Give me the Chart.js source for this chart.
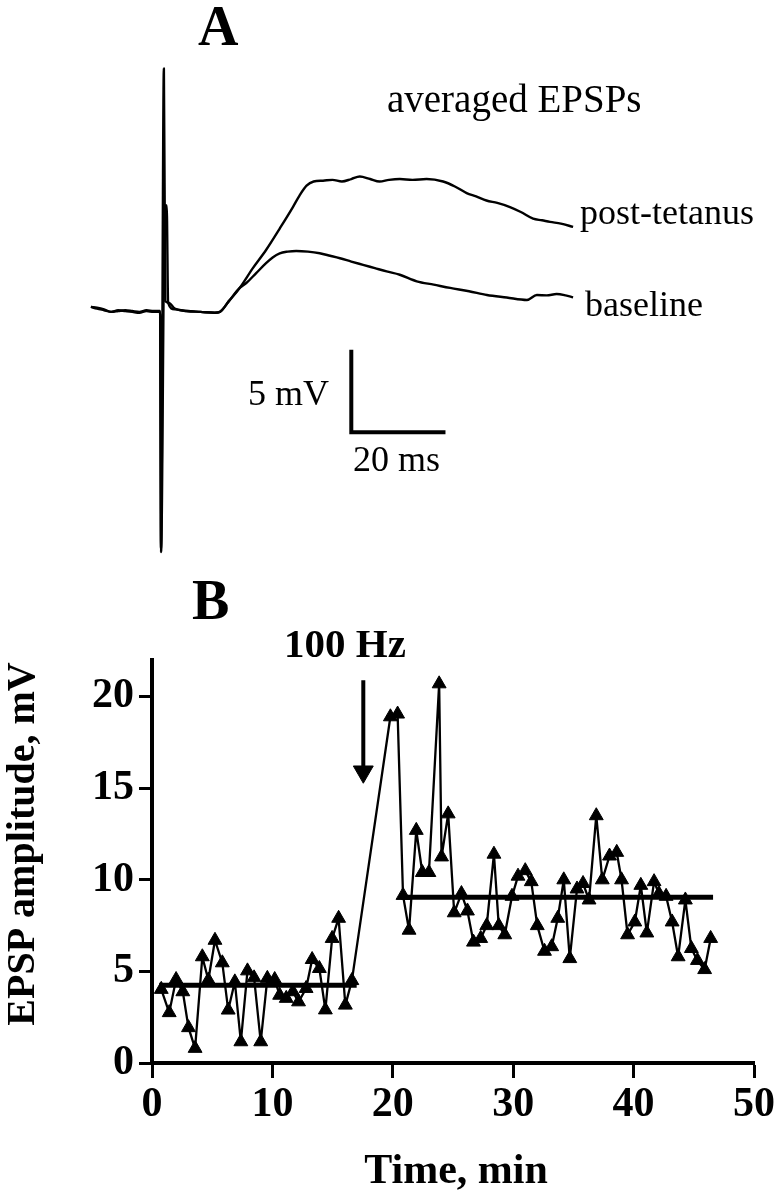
<!DOCTYPE html>
<html>
<head>
<meta charset="utf-8">
<title>EPSP potentiation</title>
<script src="https://cdn.jsdelivr.net/npm/chart.js@4.4.1/dist/chart.umd.min.js"></script>
<style>
  html, body { margin: 0; padding: 0; background: #fff; }
  #wrap { position: relative; width: 777px; height: 1199px; }
  #traceChart { position: absolute; left: 0; top: 0; }
  #timeChart { position: absolute; left: 0; top: 580px; }
</style>
</head>
<body>
<div id="wrap">
  <canvas id="traceChart" width="777" height="580"></canvas>
  <canvas id="timeChart" width="777" height="619"></canvas>
</div>
<script>
// ===== PANEL A: averaged EPSPs (ms, mV) =====
const postTime = [-15.3, -14, -12.5, -11, -9.5, -8, -6.5, -5, -3.5, -2, -0.6, -0.4, 0.2, 0.5, 1.2, 2.5, 5, 8, 11, 12.1,
  14, 16.3, 19.1, 21.9, 24.8, 27.6, 29.0, 30.5, 32, 34, 36, 38, 40, 41.8, 44, 46, 48, 50.3, 53, 56, 59.5, 62, 64.5,
  66.5, 68.7, 71, 73.7, 76, 78.6, 80.5, 82.2, 84.5, 87.1];
const postMv   = [0.25, 0.15, 0.05, -0.05, 0.05, 0.0, -0.05, -0.1, 0.0, -0.05, -0.05, -14.6, 14.7, 0.6, 0.5, 0.15, 0.0, -0.05, -0.1, -0.05,
  0.6, 1.4, 2.6, 3.7, 5.0, 6.3, 7.0, 7.6, 7.85, 7.9, 7.95, 7.85, 8.0, 8.15, 8.0, 7.85, 7.95, 8.0, 7.95, 8.0, 7.85, 7.55, 7.15,
  6.95, 6.7, 6.55, 6.3, 6.0, 5.6, 5.5, 5.4, 5.3, 5.1];

const baseTime = [-15.3, -14, -12.5, -11, -9.5, -8, -6.5, -5, -3.5, -2, -0.6, -0.4, 0.4, 0.8, 1.1, 2.5, 5, 8, 11, 12.1,
  14, 16.3, 17.7, 19.8, 21.9, 23.3, 24.8, 26.5, 28.3, 30.8, 33.3, 35.5, 37.6, 40, 42.5, 45, 47.5, 50.3, 53.9, 57.5,
  61, 65, 68.8, 73, 77.3, 79.4, 81.5, 83.6, 85.5, 87.1];
const baseMv   = [0.25, 0.2, 0.1, -0.05, 0.0, 0.05, 0.0, -0.05, 0.05, 0.0, 0.0, -14.6, 6.4, 6.4, 0.5, 0.1, 0.0, -0.05, -0.1, -0.05,
  0.6, 1.4, 1.7, 2.3, 2.9, 3.25, 3.5, 3.6, 3.64, 3.6, 3.5, 3.35, 3.2, 3.0, 2.8, 2.6, 2.4, 2.2, 1.8, 1.6,
  1.4, 1.2, 0.97, 0.82, 0.67, 0.97, 0.95, 1.03, 0.95, 0.83];

// 5 mV / 20 ms calibration bar
const barMs = [40, 40, 60];
const barMv = [-2.35, -7.35, -7.35];

// ===== PANEL B: EPSP amplitude vs time (min, mV) =====
const sampleMin = [0.77, 1.43, 2.0, 2.56, 3.03, 3.58, 4.18, 4.68, 5.23, 5.84, 6.33, 6.88, 7.38, 7.93, 8.48, 9.03, 9.58, 10.19, 10.6, 11.15,
  11.7, 12.17, 12.8, 13.3, 13.9, 14.4, 14.96, 15.5, 16.06, 16.6, 19.8, 20.4, 20.85, 21.35, 21.95, 22.45, 23.0, 23.85, 24.05, 24.6,
  25.1, 25.7, 26.2, 26.7, 27.3, 27.8, 28.4, 28.8, 29.3, 29.9, 30.4, 31.0, 31.5, 32.0, 32.6, 33.2, 33.7, 34.2, 34.7, 35.3,
  35.8, 36.3, 36.9, 37.4, 38.0, 38.6, 39.0, 39.5, 40.1, 40.6, 41.1, 41.7, 42.1, 42.7, 43.2, 43.7, 44.3, 44.8, 45.3, 45.9, 46.4];
const amplitudeMv = [4.02, 2.75, 4.56, 3.89, 1.93, 0.8, 5.8, 4.53, 6.7, 5.47, 2.89, 4.43, 1.16, 5.03, 4.65, 1.16, 4.62, 4.56, 3.7, 3.53,
  3.89, 3.34, 4.07, 5.65, 5.16, 2.9, 6.8, 7.9, 3.16, 4.5, 18.9, 19.05, 9.15, 7.25, 12.7, 10.4, 10.4, 20.7, 11.25, 13.6,
  8.2, 9.25, 8.3, 6.6, 6.8, 7.5, 11.4, 7.5, 7.0, 9.1, 10.2, 10.5, 9.9, 7.5, 6.1, 6.35, 7.9, 10.0, 5.7, 9.5,
  9.8, 8.9, 13.5, 10.0, 11.3, 11.5, 10.0, 7.0, 7.7, 9.7, 7.1, 9.9, 9.25, 9.1, 7.7, 5.8, 8.9, 6.25, 5.6, 5.1, 6.8];

const preMeanMin = [0.6, 17.0];
const preMeanMv = [4.25, 4.25];
const postMeanMin = [20.7, 46.6];
const postMeanMv = [9.05, 9.05];

// 100 Hz tetanus arrow
const arrowMin = [17.55, 17.55];
const arrowMv = [20.9, 15.9];

const xTicks = [0, 10, 20, 30, 40, 50];
const yTicks = [0, 5, 10, 15, 20];

// ================== helpers ==================
Chart.defaults.font.family = "'Liberation Serif', 'Times New Roman', serif";
Chart.defaults.color = '#000';

const pts = (xs, ys) => xs.map((x, i) => ({ x, y: ys[i] }));

// free text (panel letters, labels, axis titles)
const freeText = {
    id: 'freeText',
    afterDraw(chart, args, opts) {
        const ctx = chart.ctx;
        (opts.items || []).forEach(t => {
            ctx.save();
            ctx.font = t.font;
            ctx.fillStyle = '#000';
            ctx.textAlign = t.align || 'left';
            ctx.textBaseline = t.baseline || 'alphabetic';
            ctx.translate(t.x, t.y);
            if (t.rotate) ctx.rotate(t.rotate);
            ctx.fillText(t.text, 0, 0);
            ctx.restore();
        });
    }
};

const serif = "'Liberation Serif', 'Times New Roman', serif";

// ================== PANEL A ==================
const traceStyle = {
    borderColor: '#000', borderWidth: 2.4, pointRadius: 0,
    borderJoinStyle: 'round', cubicInterpolationMode: 'monotone'
};

new Chart(document.getElementById('traceChart'), {
    type: 'line',
    data: {
        datasets: [
            { data: pts(postTime, postMv), ...traceStyle },
            { data: pts(baseTime, baseMv), ...traceStyle },
            { data: pts(barMs, barMv), borderColor: '#000', borderWidth: 4, pointRadius: 0 }
        ]
    },
    options: {
        responsive: false,
        animation: false,
        events: [],
        layout: { padding: 0 },
        plugins: {
            legend: { display: false },
            tooltip: { enabled: false },
            freeText: {
                items: [
                    { text: 'A', x: 198, y: 45, font: 'bold 56px ' + serif },
                    { text: 'averaged EPSPs', x: 387, y: 112, font: '39px ' + serif },
                    { text: 'post-tetanus', x: 580, y: 224, font: '36px ' + serif },
                    { text: 'baseline', x: 585, y: 316, font: '36px ' + serif },
                    { text: '5 mV', x: 248, y: 405, font: '36px ' + serif },
                    { text: '20 ms', x: 353, y: 471, font: '36px ' + serif }
                ]
            }
        },
        scales: {
            x: { type: 'linear', display: false, min: -34.6, max: 130.4 },
            y: { type: 'linear', display: false, min: -16.3, max: 18.85 }
        }
    },
    plugins: [freeText]
});

// ================== PANEL B ==================
new Chart(document.getElementById('timeChart'), {
    type: 'line',
    data: {
        datasets: [
            { data: pts(sampleMin, amplitudeMv), borderColor: '#000', borderWidth: 2.3, borderJoinStyle: 'round',
              pointStyle: 'triangle', pointRadius: 8, pointBackgroundColor: '#000', pointBorderColor: '#000', pointBorderWidth: 1 },
            { data: pts(preMeanMin, preMeanMv), borderColor: '#000', borderWidth: 5, pointRadius: 0 },
            { data: pts(postMeanMin, postMeanMv), borderColor: '#000', borderWidth: 5, pointRadius: 0 },
            { data: pts(arrowMin, arrowMv), borderColor: '#000', borderWidth: 4,
              pointStyle: 'triangle', pointRadius: [0, 11.5], pointRotation: 180,
              pointBackgroundColor: '#000', pointBorderColor: '#000', pointBorderWidth: 1 }
        ]
    },
    options: {
        responsive: false,
        animation: false,
        events: [],
        layout: { padding: { top: 80, right: 20, left: 0, bottom: 0 } },
        plugins: {
            legend: { display: false },
            tooltip: { enabled: false },
            freeText: {
                items: [
                    { text: 'B', x: 192, y: 39, font: 'bold 56px ' + serif },
                    { text: '100 Hz', x: 284, y: 77, font: 'bold 41px ' + serif },
                    { text: 'Time, min', x: 456, y: 592, font: 'bold 42px ' + serif, align: 'center', baseline: 'middle' },
                    { text: 'EPSP amplitude, mV', x: 24, y: 264, font: 'bold 40px ' + serif, align: 'center', baseline: 'middle', rotate: -Math.PI / 2 }
                ]
            }
        },
        scales: {
            x: {
                type: 'linear', min: 0, max: 50, position: 'bottom',
                afterFit(s) { s.height = 136; },
                afterBuildTicks(s) { s.ticks = xTicks.map(v => ({ value: v })); },
                border: { display: true, color: '#000', width: 4 },
                grid: { display: true, drawOnChartArea: false, drawTicks: true, tickLength: 15, tickWidth: 3, tickColor: '#000', color: '#000' },
                ticks: { color: '#000', font: { size: 42, weight: 'bold' }, padding: 2, maxRotation: 0, autoSkip: false }
            },
            y: {
                type: 'linear', min: 0, max: 22, position: 'left',
                afterFit(s) { s.width = 152; },
                afterBuildTicks(s) { s.ticks = yTicks.map(v => ({ value: v })); },
                border: { display: true, color: '#000', width: 4 },
                grid: { display: true, drawOnChartArea: false, drawTicks: true, tickLength: 13, tickWidth: 3, tickColor: '#000', color: '#000' },
                ticks: { color: '#000', font: { size: 42, weight: 'bold' }, padding: 5, autoSkip: false }
            }
        }
    },
    plugins: [freeText]
});
</script>
</body>
</html>
